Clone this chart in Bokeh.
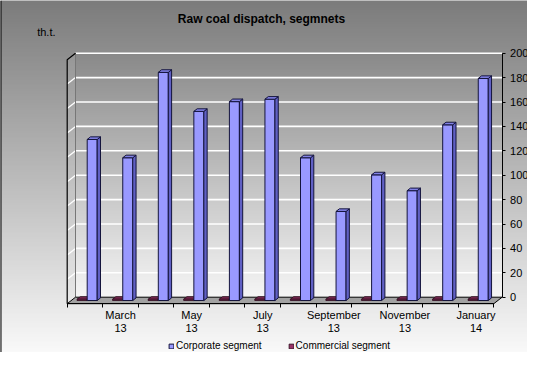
import numpy as np
from bokeh.plotting import figure
from bokeh.models import (Range1d, LinearAxis, FixedTicker, Label, Legend,
                          LegendItem)
from bokeh.embed import file_html
from bokeh.resources import INLINE

# ---------------- data ----------------
categories = ["February\n13", "March\n13", "April\n13", "May\n13", "June\n13",
              "July\n13", "August\n13", "September\n13", "October\n13",
              "November\n13", "December\n13", "January\n14"]
corporate = [132, 117, 187, 155, 163, 165, 117, 73, 103, 90, 144, 182]
commercial = [1, 1, 1, 1, 1, 1, 1, 1, 1, 1, 1, 1]
value_ticks = [0, 20, 40, 60, 80, 100, 120, 140, 160, 180, 200]
labeled_idx = [1, 3, 5, 7, 9, 11]
title_text = "Raw coal dispatch, segmnets"
unit_text = "th.t."
series_names = ["Corporate segment", "Commercial segment"]

# ---------------- layout ----------------
W, H = 527, 352
PX_SLOT = 35.55          # px per category slot
X0PX = 66.7              # px of first slot boundary (front)
PX_UNIT = 1.22           # px per value unit
Y0PX = 296.7             # px of value 0 on back wall
DX = 8.3 / PX_SLOT       # depth offset (x)
DY = 6.5 / PX_UNIT       # depth offset (y)
SX = 3.3 / PX_SLOT       # bar depth (x)
SY = 2.6 / PX_UNIT       # bar depth (y)
FB = 3.3 / PX_UNIT       # bar front-face drop
BW = 10.0 / PX_SLOT      # bar width
N = len(categories)
VMAX = value_ticks[-1]

xr = Range1d(-X0PX / PX_SLOT, (W - X0PX) / PX_SLOT)
yr = Range1d((Y0PX - H) / PX_UNIT, Y0PX / PX_UNIT)

p = figure(width=W, height=H, x_range=xr, y_range=yr, output_backend="svg",
           toolbar_location=None, x_axis_location=None, y_axis_location=None,
           min_border=0, outline_line_color=None)
p.xgrid.visible = False
p.ygrid.visible = False
p.background_fill_color = "#b0b0b0"
p.border_fill_color = "#b0b0b0"


def gradient(n, top, bottom):
    # rows from bottom to top
    t = np.linspace(0, 1, n)
    g = (bottom + (top - bottom) * t).astype(np.uint32)
    img = np.empty((n, 2), dtype=np.uint32)
    col = (255 << 24) | (g << 16) | (g << 8) | g
    img[:, 0] = col
    img[:, 1] = col
    return img

# outer background gradient (ref y 0 -> 352 of 368)
top_c = 0x7c
bot_c = 0x7c + (H / 368) * (0xff - 0x7c)
p.image_rgba(image=[gradient(200, top_c, bot_c)], x=xr.start, y=yr.start,
             dw=xr.end - xr.start, dh=yr.end - yr.start)

# back wall gradient
p.image_rgba(image=[gradient(200, 0x8a, 0xf6)], x=DX, y=0, dw=N, dh=VMAX)

# left wall
p.patch(x=[0, 0, DX, DX], y=[-DY, VMAX - DY, VMAX, 0], fill_color="white",
        fill_alpha=0.08, line_color=None)

# gridlines on back wall and left wall
gv = value_ticks[1:]
p.segment(x0=[DX] * len(gv), x1=[N + DX] * len(gv), y0=gv, y1=gv,
          line_color="white", line_width=1.6)
p.segment(x0=[0] * len(gv[:-1]), x1=[DX] * len(gv[:-1]),
          y0=[v - DY for v in gv[:-1]], y1=gv[:-1], line_color="white", line_width=1.3)
p.segment(x0=[DX], x1=[DX], y0=[0], y1=[VMAX], line_color="#777777", line_width=1)
# left wall outer edges
p.line(x=[0, 0, DX], y=[-DY, VMAX - DY, VMAX], line_color="black", line_width=1.2)

# floor
p.patch(x=[0, N, N + DX, DX], y=[-DY, -DY, 0, 0], fill_color="#a2a2a2",
        line_color="black", line_width=1)

# outer chart border (left edge)
p.segment(x0=[xr.start], x1=[xr.start], y0=[yr.start], y1=[yr.end],
          line_color="black", line_width=2)


def bar_faces(values, off):
    xl = np.arange(N) + off
    xrr = xl + BW
    v = np.array(values, dtype=float)
    top = v - FB
    bot = np.full(N, -FB)
    side_xs = [[a, a + SX, a + SX, a] for a in xrr]
    side_ys = [[b, b + SY, t + SY, t] for b, t in zip(bot, top)]
    top_xs = [[a, b, b + SX, a + SX] for a, b in zip(xl, xrr)]
    top_ys = [[t, t, t + SY, t + SY] for t in top]
    return xl, xrr, bot, top, side_xs, side_ys, top_xs, top_ys


# commercial bars
c = bar_faces(commercial, 0.276)
p.patches(xs=c[4], ys=c[5], fill_color="#6b2447", line_color="#2a0a1a", line_width=0.8)
p.patches(xs=c[6], ys=c[7], fill_color="#7a2952", line_color="#2a0a1a", line_width=0.8)
r_com = p.quad(left=c[0], right=c[1], bottom=c[2], top=c[3], fill_color="#993366",
               line_color="#2a0a1a", line_width=0.8)

# corporate bars
b = bar_faces(corporate, 0.5626)
r_cor = p.quad(left=b[0], right=b[1], bottom=b[2], top=b[3], fill_color="#9999ff",
               line_color="#14143c", line_width=1)
p.patches(xs=b[4], ys=b[5], fill_color="#6060c4", line_color="#14143c", line_width=1)
p.patches(xs=b[6], ys=b[7], fill_color="#8282e6", line_color="#14143c", line_width=1)

FONT = "Liberation Sans"

# right value axis (back wall)
ax_r = LinearAxis(fixed_location=N + DX, ticker=FixedTicker(ticks=value_ticks),
                  bounds=(0, VMAX), major_tick_out=3, major_tick_in=0,
                  minor_tick_line_color=None, axis_line_color="black",
                  major_tick_line_color="black", major_label_standoff=5,
                  major_label_text_font=FONT, major_label_text_font_size="11px",
                  major_label_text_color="black")
p.add_layout(ax_r, "right")

# category axis: boundary ticks
ax_b = LinearAxis(fixed_location=-DY, ticker=FixedTicker(ticks=list(range(N + 1))),
                  bounds=(0, N), major_tick_out=4, major_tick_in=0,
                  minor_tick_line_color=None, axis_line_color="black",
                  major_tick_line_color="black", major_label_text_color=None,
                  major_label_text_font_size="1px")
p.add_layout(ax_b, "below")

# category axis: labels at slot centres
ax_l = LinearAxis(fixed_location=-DY,
                  ticker=FixedTicker(ticks=[i + 0.5 for i in labeled_idx]),
                  major_label_overrides={i + 0.5: categories[i] for i in labeled_idx},
                  axis_line_color=None, major_tick_line_color=None,
                  minor_tick_line_color=None, major_tick_out=0, major_tick_in=0,
                  major_label_standoff=5, major_label_text_font=FONT,
                  major_label_text_font_size="11px", major_label_text_color="black",
                  major_label_text_line_height=1.1)
p.add_layout(ax_l, "below")

# title and unit
p.add_layout(Label(x=261, y=H - 18.5, x_units="screen", y_units="screen",
                   text=title_text, text_font=FONT, text_font_size="12px",
                   text_font_style="bold", text_align="center",
                   text_baseline="middle", text_color="black"))
p.add_layout(Label(x=36.7, y=H - 31, x_units="screen", y_units="screen",
                   text=unit_text, text_font=FONT, text_font_size="11px",
                   text_align="left", text_baseline="alphabetic", text_color="black"))

legend = Legend(items=[LegendItem(label=series_names[0], renderers=[r_cor]),
                       LegendItem(label=series_names[1], renderers=[r_com])],
                location=(168, 1), orientation="horizontal", padding=0, spacing=26,
                label_standoff=2, glyph_width=6, glyph_height=6, label_height=10,
                label_text_font=FONT, label_text_font_size="10px",
                label_text_color="black", background_fill_alpha=0,
                border_line_color=None, margin=0)
p.add_layout(legend, "center")

open("out.html", "w").write(file_html(p, INLINE))
